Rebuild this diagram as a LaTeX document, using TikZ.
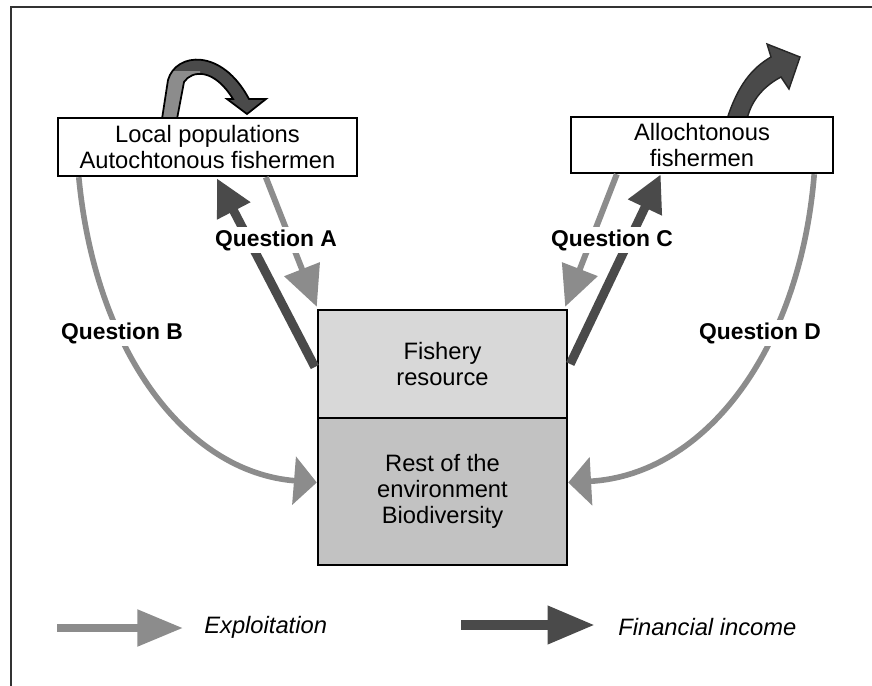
\documentclass[tikz,border=0pt]{standalone}
\usepackage{fontspec}
\setmainfont{Liberation Sans}
\usetikzlibrary{arrows.meta,calc}
\definecolor{exploitgray}{RGB}{140,140,140}
\definecolor{incomegray}{RGB}{74,74,74}
\definecolor{fisheryfill}{RGB}{216,216,216}
\definecolor{restfill}{RGB}{194,194,194}
\definecolor{framegray}{RGB}{50,50,50}
\begin{document}
\begin{tikzpicture}[x=0.02cm, y=-0.02cm,
  every node/.style={font=\fontsize{13.5}{14.7}\selectfont},
  actor/.style={draw=black, line width=1.4pt, fill=white, align=center, inner sep=0pt},
  stock/.style={draw=black, line width=1.4pt, align=center, inner sep=0pt, minimum width=4.98cm},
  question/.style={fill=white, inner sep=1.5pt, font=\fontsize{13}{14}\selectfont\bfseries},
  legendtext/.style={anchor=west, inner sep=0pt, font=\fontsize{13.5}{14.7}\selectfont\itshape},
  exploit/.style={exploitgray, line width=3.4pt, -{Triangle[length=23pt,width=21pt]}},
  income/.style={incomegray, line width=5.1pt, -{Triangle[length=21pt,width=20pt]}},
  detour/.style={exploitgray, line width=3.2pt, -{Triangle[length=13pt,width=27pt]}},
]
  \useasboundingbox (0,0) rectangle (872,686);
  % frame
  \draw[framegray, line width=1.2pt] (11,686) -- (11,7) -- (872,7);
  % loop arrow over the local populations
  \fill[incomegray] (162,119) -- (168,80) .. controls (176,52) and (222,48) .. (249,99) -- (266,99) -- (247,114) -- (227,99) -- (233,99) .. controls (214,68) and (192,70) .. (184,82) -- (177,119) -- cycle;
  \begin{scope}
    \clip (150,72) rectangle (200,120);
    \fill[exploitgray] (162,119) -- (168,80) .. controls (176,52) and (222,48) .. (249,99) -- (266,99) -- (247,114) -- (227,99) -- (233,99) .. controls (214,68) and (192,70) .. (184,82) -- (177,119) -- cycle;
  \end{scope}
  \draw[black, line width=1pt] (162,119) -- (168,80) .. controls (176,52) and (222,48) .. (249,99) -- (266,99) -- (247,114) -- (227,99) -- (233,99) .. controls (214,68) and (192,70) .. (184,82) -- (177,119) -- cycle;
  % income leaving with the allochtonous fishermen
  \filldraw[fill=incomegray, draw=black!85, line width=0.8pt] (727,119) .. controls (738,85) and (752,68) .. (771,57) -- (767,44) -- (800,57) -- (789,89) -- (781,77) .. controls (766,85) and (752,98) .. (747,119) -- cycle;
  % actors
  \node[actor, minimum width=5.98cm, minimum height=1.16cm] (locpop) at (207.5,147) {Local populations\\Autochtonous fishermen};
  \node[actor, minimum width=5.24cm, minimum height=1.12cm] (alloch) at (702,145) {Allochtonous\\fishermen};
  % resource and environment
  \node[stock, fill=fisheryfill, minimum height=2.16cm] (fishery) at (442.5,364) {Fishery\\resource};
  \node[stock, fill=restfill, minimum height=2.94cm] (rest) at (442.5,491.5) {Rest of the\\environment\\Biodiversity};
  % question A
  \draw[exploit] ($(locpop.south west)+(209,0)$) -- ($(fishery.north west)+(0,-2)$);
  \draw[income] ($(fishery.west)+(-2,3)$) -- ($(locpop.south west)+(160,1)$);
  % question C
  \draw[exploit] ($(alloch.south west)+(47,0)$) -- ($(fishery.north east)+(-3,-2)$);
  \draw[income] ($(fishery.east)+(2,0)$) -- ($(alloch.south west)+(91,0)$);
  % questions B and D
  \draw[detour] ($(locpop.south west)+(22,0)$) .. controls (95,350) and (185,472) .. ($(rest.west)+(0,-9)$);
  \draw[detour] ($(alloch.south east)+(-20,0)$) .. controls (800,350) and (705,475) .. ($(rest.east)+(0,-9)$);
  % labels of the questions
  \node[question] (qa) at (276,240) {Question A};
  \node[question] (qb) at (122,333) {Question B};
  \node[question] (qc) at (612,240) {Question C};
  \node[question] (qd) at (760,333) {Question D};
  % legend
  \node[legendtext] (exlab) at (204,627) {Exploitation};
  \node[legendtext] (inlab) at (618,627) {Financial income};
  \coordinate (exstart) at (57,628);
  \coordinate (instart) at (461,625);
  \draw[exploitgray, line width=4.5pt, -{Triangle[length=26pt,width=20pt]}] (exstart) -- ($(exlab.west)+(-21,1)$);
  \draw[incomegray, line width=5.7pt, -{Triangle[length=27pt,width=20.5pt]}] (instart) -- ($(inlab.west)+(-23,-2)$);
\end{tikzpicture}
\end{document}
